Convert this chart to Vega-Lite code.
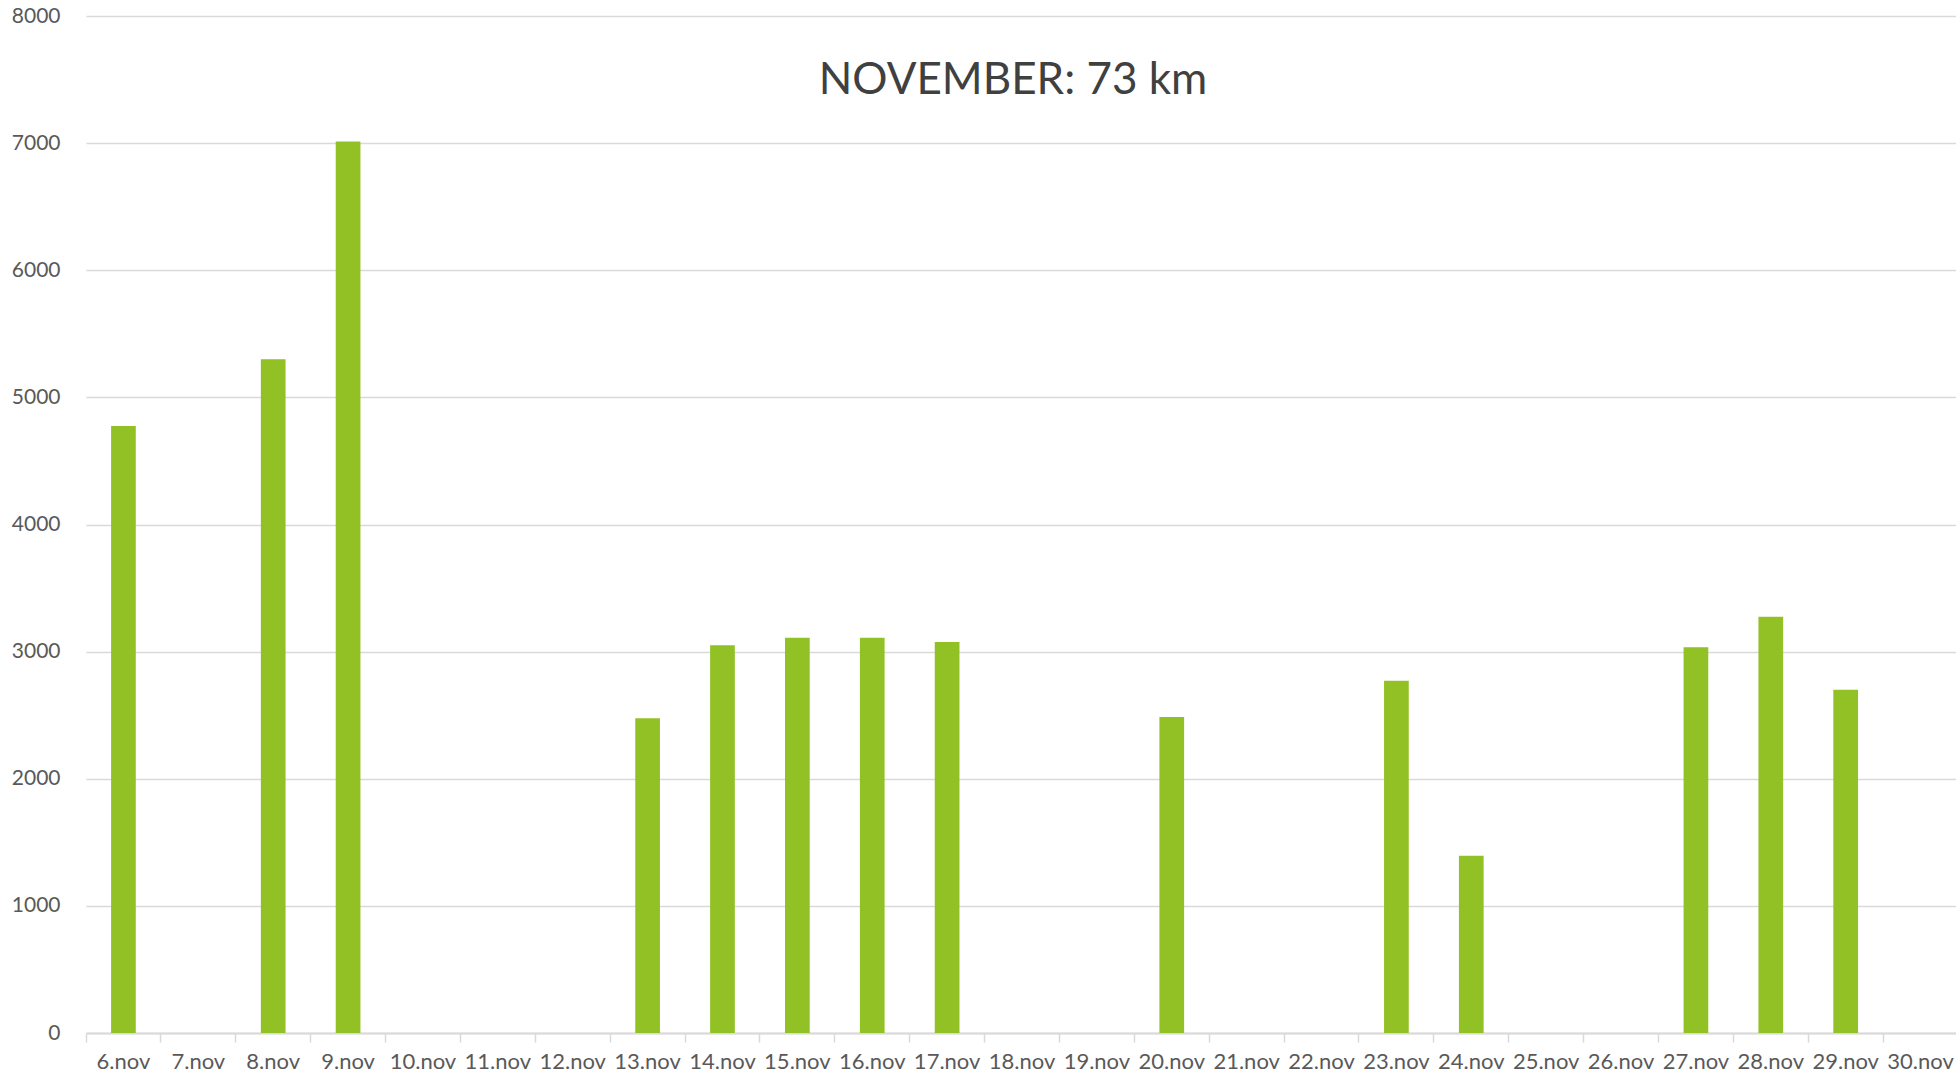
{
  "$schema": "https://vega.github.io/schema/vega-lite/v6.json",
  "autosize": {"type": "none"},
  "padding": {"left": 86, "top": 16, "right": 0, "bottom": 45},
  "width": 1872,
  "height": 1017,
  "background": "white",
  "title": {
    "text": "NOVEMBER: 73 km",
    "orient": "top",
    "anchor": "middle",
    "frame": "group",
    "baseline": "alphabetic",
    "offset": 0,
    "dy": 133,
    "dx": -9,
    "font": "Lato",
    "fontSize": 44,
    "fontWeight": "normal",
    "color": "#404040"
  },
  "data": {
    "values": [
      {"day": "6.nov", "m": 4775},
      {"day": "7.nov", "m": 0},
      {"day": "8.nov", "m": 5300},
      {"day": "9.nov", "m": 7012},
      {"day": "10.nov", "m": 0},
      {"day": "11.nov", "m": 0},
      {"day": "12.nov", "m": 0},
      {"day": "13.nov", "m": 2475},
      {"day": "14.nov", "m": 3050},
      {"day": "15.nov", "m": 3110},
      {"day": "16.nov", "m": 3110},
      {"day": "17.nov", "m": 3075},
      {"day": "18.nov", "m": 0},
      {"day": "19.nov", "m": 0},
      {"day": "20.nov", "m": 2485},
      {"day": "21.nov", "m": 0},
      {"day": "22.nov", "m": 0},
      {"day": "23.nov", "m": 2770},
      {"day": "24.nov", "m": 1395},
      {"day": "25.nov", "m": 0},
      {"day": "26.nov", "m": 0},
      {"day": "27.nov", "m": 3035},
      {"day": "28.nov", "m": 3275},
      {"day": "29.nov", "m": 2700},
      {"day": "30.nov", "m": 0}
    ]
  },
  "mark": {"type": "bar", "color": "#92C125", "width": {"band": 0.33}},
  "encoding": {
    "x": {
      "field": "day",
      "type": "nominal",
      "sort": null,
      "scale": {"paddingInner": 0, "paddingOuter": 0},
      "axis": {
        "title": null,
        "labelAngle": 0,
        "labelFont": "Lato",
        "labelFontSize": 22,
        "labelColor": "#595959",
        "labelPadding": 9,
        "domainColor": "#d9d9d9",
        "domainWidth": 2,
        "ticks": true,
        "tickColor": "#d9d9d9",
        "tickWidth": 1.5,
        "tickSize": 9,
        "bandPosition": 0,
        "labelBound": false,
        "labelOverlap": false,
        "grid": false
      }
    },
    "y": {
      "field": "m",
      "type": "quantitative",
      "scale": {"domain": [0, 8000], "nice": false},
      "axis": {
        "title": null,
        "values": [0, 1000, 2000, 3000, 4000, 5000, 6000, 7000, 8000],
        "format": "d",
        "labelFont": "Lato",
        "labelFontSize": 21,
        "labelColor": "#595959",
        "labelPadding": 26,
        "ticks": false,
        "domain": false,
        "grid": true,
        "gridColor": "#d9d9d9",
        "gridWidth": 1.5
      }
    }
  },
  "config": {"view": {"stroke": null}}
}
